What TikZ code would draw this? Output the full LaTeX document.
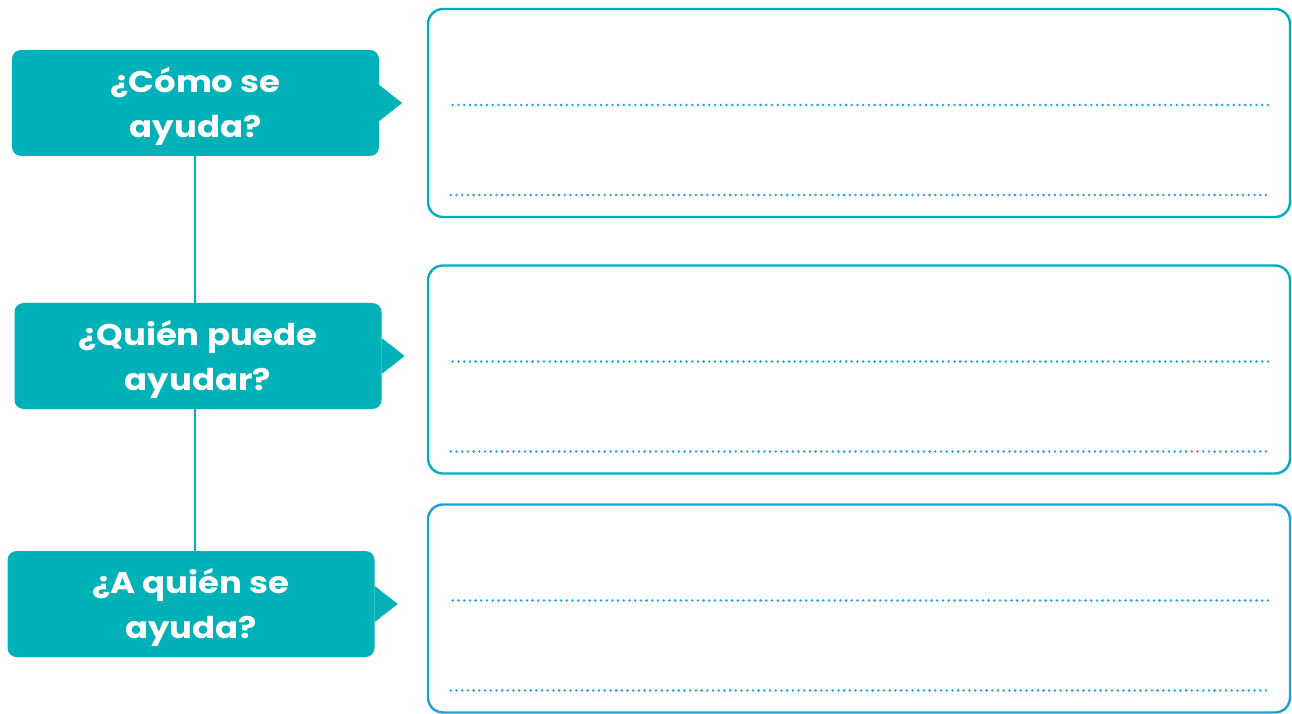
\documentclass[tikz,border=0pt]{standalone}
\usepackage{fontspec}
\setmainfont{Poppins}
\newfontfamily\qfont{Poppins}[FakeStretch=1.13]
\usetikzlibrary{calc,positioning}
\definecolor{tealfill}{HTML}{00B2B8}
\definecolor{tealline}{HTML}{00B0B9}
\definecolor{boxblue}{HTML}{1CA0DC}
\definecolor{dotblue}{HTML}{1FA6E0}
\tikzset{
  qbox/.style={fill=tealfill,rounded corners=9pt,minimum width=367pt,minimum height=106pt,
    inner sep=0pt,align=center,text=white,text depth=1.5pt,
    font=\qfont\fontsize{30}{45}\selectfont\bfseries},
  abox/.style={draw=#1,line width=2.4pt,rounded corners=15pt,minimum width=862pt,
    minimum height=208pt,inner sep=0pt},
  dotline/.style={dotblue,line width=2.8pt,line cap=round,dash pattern=on 0pt off 5.7pt}
}

\begin{document}
\begin{tikzpicture}[x=1pt,y=1pt]
\useasboundingbox (0,0) rectangle (1292,713);
% questions on the left
\node[qbox] (q1) at (195.5,610) {¿Cómo se\\ayuda?};
\node[qbox] (q2) at (198,357) {¿Quién puede\\ayudar?};
\node[qbox] (q3) at (191,109) {¿A quién se\\ayuda?};
% answer boxes on the right
\node[abox=tealline] (a1) at (859,600) {};
\node[abox=tealline] (a2) at (859,343.5) {};
\node[abox=boxblue] (a3) at (859,104.5) {};
% spine joining the questions
\draw[tealfill,line width=2.4pt] (q1.south -| 195,0) -- (q2.north -| 195,0);
\draw[tealfill,line width=2.4pt] (q2.south -| 195,0) -- (q3.north -| 195,0);
\foreach \q in {q1,q2,q3}{
  \fill[tealfill] ([yshift=18pt]\q.east) -- ([xshift=23pt]\q.east) -- ([yshift=-18pt]\q.east) -- cycle;
}
% writing lines
\foreach \a in {a1,a2,a3}{
  \draw[dotline] ([xshift=26pt,yshift=8pt]\a.west) -- ([xshift=-22pt,yshift=8pt]\a.east);
  \draw[dotline] ([xshift=24pt,yshift=-82pt]\a.west) -- ([xshift=-22pt,yshift=-82pt]\a.east);
}
\end{tikzpicture}
\end{document}
